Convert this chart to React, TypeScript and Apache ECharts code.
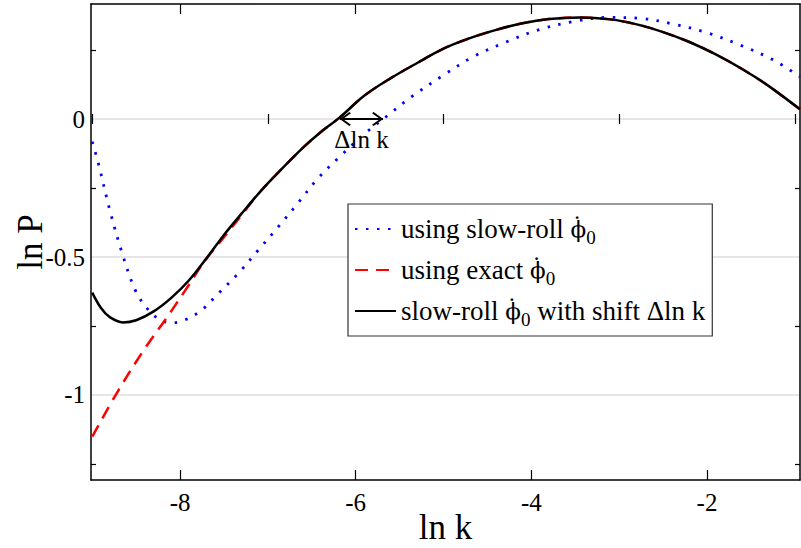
import React, { useEffect, useRef } from 'react';
import * as echarts from 'echarts';

// Axis ranges
const X_MIN = -9.014;
const X_MAX = -0.941;
const Y_MIN = -1.308;
const Y_MAX = 0.4167;

// Tick values
const X_MAJOR = [-8, -6, -4, -2];
const X_MINOR = [-9, -7, -5, -3, -1];
const Y_MAJOR = [-1, -0.5, 0];
const Y_MINOR = [-1.25, -0.75, -0.25, 0.25];

// Series names
const NAME_SLOWROLL = 'using slow-roll ϕ̇0';
const NAME_EXACT = 'using exact ϕ̇0';
const NAME_SHIFT = 'slow-roll ϕ̇0 with shift Δln k';

// using slow-roll (blue dotted)
const SLOWROLL_LNK = [-9.0, -8.93, -8.8, -8.664, -8.51, -8.36, -8.21, -8.08, -7.943, -7.753, -7.564, -7.336, -7.109, -6.88, -6.653, -6.43, -6.16, -5.894, -5.647, -5.362, -5.0, -4.661, -4.28, -3.9, -3.52, -3.14, -2.763, -2.384, -2.004, -1.624, -1.245, -0.941];
const SLOWROLL_LNP = [-0.082, -0.161, -0.33, -0.481, -0.62, -0.692, -0.731, -0.738, -0.728, -0.692, -0.632, -0.559, -0.475, -0.39, -0.303, -0.215, -0.13, -0.052, 0.01, 0.081, 0.159, 0.226, 0.28, 0.325, 0.353, 0.368, 0.365, 0.344, 0.313, 0.268, 0.214, 0.153];

// using exact (red dashed)
const EXACT_LNK = [-9.0, -8.7, -8.4, -8.17, -7.943, -7.716, -7.5, -7.3, -7.1, -6.9, -6.6, -6.4, -6.18, -5.9, -5.6, -5.3, -5.0, -4.7, -4.4, -4.1, -3.8, -3.45, -3.1, -2.8, -2.5, -2.2, -1.9, -1.6, -1.3, -0.941];
const EXACT_LNP = [-1.151, -0.982, -0.831, -0.728, -0.622, -0.513, -0.428, -0.348, -0.268, -0.2, -0.104, -0.048, 0.006, 0.085, 0.148, 0.203, 0.255, 0.293, 0.323, 0.347, 0.362, 0.368, 0.361, 0.343, 0.315, 0.279, 0.234, 0.181, 0.12, 0.035];

// slow-roll with shift (black solid)
const SHIFT_LNK = [-9.0, -8.9, -8.8, -8.65, -8.5, -8.3, -8.1, -7.9, -7.7, -7.5, -7.3, -7.1, -6.9, -6.6, -6.4, -6.18, -5.9, -5.6, -5.3, -5.0, -4.7, -4.4, -4.1, -3.8, -3.45, -3.1, -2.8, -2.5, -2.2, -1.9, -1.6, -1.3, -0.941];
const SHIFT_LNP = [-0.629, -0.685, -0.718, -0.737, -0.729, -0.697, -0.648, -0.585, -0.505, -0.42, -0.343, -0.268, -0.2, -0.104, -0.048, 0.006, 0.085, 0.148, 0.203, 0.255, 0.293, 0.323, 0.347, 0.362, 0.368, 0.361, 0.343, 0.315, 0.279, 0.234, 0.181, 0.12, 0.035];

// Δln k annotation (from black zero crossing to blue zero crossing)
const SHIFT_FROM = -6.179;
const SHIFT_TO = -5.689;
const SHIFT_LEVEL = 0;
const SHIFT_LABEL = 'Δln k';

const FONT = 'Liberation Serif';
const CHEVRON = 'path://M10 10 L18.5 19 L17 20.5 L10 13 L3 20.5 L1.5 19 Z M10 0 L10.1 0 L10.05 0.05 Z';

const zip = (xs: number[], ys: number[]) => xs.map((x, i) => [x, ys[i]]);

// dotted phi with subscript 0, drawn as rich text: dot token of zero width centred over the phi
const legendRich = (name: string) => {
  const i = name.indexOf('ϕ̇0');
  if (i < 0) return name;
  return name.slice(0, i) + '{dot|\u2007˙}{phi|ϕ}{sub|0}' + name.slice(i + 3);
};

export default function App() {
  const ref = useRef<HTMLDivElement>(null);
  useEffect(() => {
    document.body.style.margin = '0';
    const chart = echarts.init(ref.current!, null, { renderer: 'svg' });
    const axisLine = { show: true, onZero: false, lineStyle: { color: '#000', width: 1.5 } };
    const tickStyle = { color: '#000', width: 1.2 };
    const labelStyle = { fontFamily: FONT, fontSize: 25, color: '#000' };
    const option: any = {
      animation: false,
      backgroundColor: '#fff',
      grid: { left: 91, right: 1, top: 4, bottom: 68, containLabel: false, outerBoundsMode: 'none' },
      xAxis: [
        {
          type: 'value', position: 'bottom', min: X_MIN, max: X_MAX,
          axisLine,
          axisTick: { show: true, inside: true, length: 10, customValues: X_MAJOR, lineStyle: tickStyle },
          axisLabel: { show: true, customValues: X_MAJOR, margin: 10, ...labelStyle },
          splitLine: { show: false },
          name: 'ln k', nameLocation: 'middle', nameGap: 28, nameMoveOverlap: false,
          nameTextStyle: { fontFamily: FONT, fontSize: 35, color: '#000', lineHeight: 38 },
        },
        {
          type: 'value', position: 'bottom', min: X_MIN, max: X_MAX,
          axisLine: { show: false },
          axisTick: { show: true, inside: true, length: 5, customValues: X_MINOR, lineStyle: tickStyle },
          axisLabel: { show: false }, splitLine: { show: false },
        },
        {
          type: 'value', position: 'top', min: X_MIN, max: X_MAX,
          axisLine,
          axisTick: { show: true, inside: true, length: 10, customValues: X_MAJOR, lineStyle: tickStyle },
          axisLabel: { show: false }, splitLine: { show: false },
        },
        {
          type: 'value', position: 'top', min: X_MIN, max: X_MAX,
          axisLine: { show: false },
          axisTick: { show: true, inside: true, length: 5, customValues: X_MINOR, lineStyle: tickStyle },
          axisLabel: { show: false }, splitLine: { show: false },
        },
      ],
      yAxis: [
        {
          type: 'value', position: 'left', min: Y_MIN, max: Y_MAX,
          axisLine,
          axisTick: { show: true, inside: true, length: 5, customValues: Y_MINOR, lineStyle: tickStyle },
          axisLabel: { show: true, customValues: Y_MAJOR, margin: 6, ...labelStyle },
          splitLine: { show: false },
          name: 'ln P', nameLocation: 'middle', nameGap: 43, nameRotate: 90, nameMoveOverlap: false,
          nameTextStyle: { fontFamily: FONT, fontSize: 35, color: '#000' },
        },
        {
          type: 'value', position: 'right', min: Y_MIN, max: Y_MAX,
          axisLine,
          axisTick: { show: true, inside: true, length: 5, customValues: Y_MINOR, lineStyle: tickStyle },
          axisLabel: { show: false }, splitLine: { show: false },
        },
        {
          type: 'value', position: 'left', min: Y_MIN, max: Y_MAX,
          axisLine: { show: false },
          axisTick: { show: false, customValues: Y_MAJOR },
          axisLabel: { show: false },
          splitLine: { show: true, lineStyle: { color: '#e6e6e6', width: 2 } },
        },
      ],
      legend: {
        orient: 'vertical', left: 348, top: 204,
        backgroundColor: '#fff', borderColor: '#333', borderWidth: 1.2,
        padding: [7, 7, 7, 6],
        itemWidth: 41, itemHeight: 14, itemGap: 5, itemTextGap: 20,
        itemStyle: { color: 'rgba(0,0,0,0)', borderWidth: 0, opacity: 0 },
        formatter: legendRich,
        textStyle: {
          fontFamily: FONT, fontSize: 27, color: '#000', lineHeight: 28,
          rich: {
            dot: { fontFamily: FONT, fontSize: 26, color: '#000', width: 0, align: 'center', lineHeight: 18, padding: [0, 0, 10, 0] },
            phi: { fontFamily: 'DejaVu Serif', fontSize: 23, color: '#000', lineHeight: 28 },
            sub: { fontFamily: FONT, fontSize: 19, color: '#000', lineHeight: 12, padding: [16, 0, 0, 0] },
          },
        },
        data: [NAME_SLOWROLL, NAME_EXACT, NAME_SHIFT],
      },
      series: [
        {
          name: NAME_SLOWROLL, type: 'line', xAxisIndex: 0, yAxisIndex: 0,
          data: zip(SLOWROLL_LNK, SLOWROLL_LNP), showSymbol: false, symbol: 'none', smooth: 0.35,
          lineStyle: { color: '#0000ff', width: 2.8, type: [2.5, 8.5] },
          itemStyle: { color: '#0000ff' },
        },
        {
          name: NAME_EXACT, type: 'line', xAxisIndex: 0, yAxisIndex: 0,
          data: zip(EXACT_LNK, EXACT_LNP), showSymbol: false, symbol: 'none', smooth: 0.35,
          lineStyle: { color: '#ff0000', width: 2.5, type: [13, 8] },
          itemStyle: { color: '#ff0000' },
        },
        {
          name: NAME_SHIFT, type: 'line', xAxisIndex: 0, yAxisIndex: 0,
          data: zip(SHIFT_LNK, SHIFT_LNP), showSymbol: false, symbol: 'none', smooth: 0.35,
          lineStyle: { color: '#000', width: 2.5 },
          itemStyle: { color: '#000' },
          markLine: {
            silent: true, animation: false,
            symbol: [CHEVRON, CHEVRON], symbolSize: [14, 22],
            lineStyle: { color: '#000', width: 2, type: 'solid' },
            label: {
              show: true, formatter: SHIFT_LABEL, position: 'insideMiddleBottom', distance: 8,
              fontFamily: FONT, fontSize: 25, color: '#000',
            },
            data: [[{ coord: [SHIFT_FROM, SHIFT_LEVEL] }, { coord: [SHIFT_TO, SHIFT_LEVEL] }]],
          },
        },
      ],
    };
    chart.setOption(option);
    return () => chart.dispose();
  }, []);
  return <div ref={ref} style={{ width: 801, height: 548 }} />;
}
